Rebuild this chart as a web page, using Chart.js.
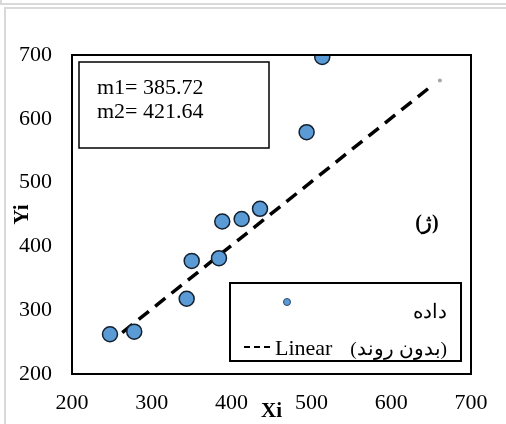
<!DOCTYPE html>
<html>
<head>
<meta charset="utf-8">
<script src="https://cdn.jsdelivr.net/npm/chart.js@4/dist/chart.umd.min.js"></script>
<style>
  html, body { margin: 0; padding: 0; background: #fff; overflow: hidden; }
  #wrap { position: relative; width: 506px; height: 424px; overflow: hidden; }
  .gline { position: absolute; background: #d9d9d9; }
  canvas { position: absolute; left: 0; top: 0; }
</style>
</head>
<body>
<div id="wrap">
  <div class="gline" style="left:0;top:3px;width:506px;height:2px"></div>
  <div class="gline" style="left:4px;top:7px;width:502px;height:2px"></div>
  <div class="gline" style="left:4px;top:7px;width:2px;height:417px"></div>
  <div class="gline" style="left:0;top:0;width:2px;height:4px"></div>
  <canvas id="chart" width="506" height="424"></canvas>
</div>
<script>
const xValues = [247.6, 278, 343.7, 350, 384.2, 388.3, 412.6, 435.6, 494, 513.6];
const yValues = [262.3, 266.4, 318, 377.3, 381.5, 439, 443, 458.9, 579, 697];

const trendX = [263, 648];
const trendY = [265, 649];

const endDot = [661, 660];

const xTicks = [200, 300, 400, 500, 600, 700];
const yTicks = [200, 300, 400, 500, 600, 700];

const notes = ['m1= 385.72', 'm2= 421.64'];
const panelLabel = '(ژ)';
const dataLabel = 'داده';
const trendLabel = ['Linear', '(بدون روند)'];

const serif = "'Liberation Serif', 'Times New Roman', 'DejaVu Serif', serif";
const blue = '#5b9bd5';

const points = xValues.map((x, i) => ({ x: x, y: yValues[i] }));
const trend = trendX.map((x, i) => ({ x: x, y: trendY[i] }));

// frame, text box, legend box, panel label
const extras = {
    id: 'extras',
    afterDraw(chart) {
        const ctx = chart.ctx;
        const a = chart.chartArea;
        ctx.save();

        ctx.strokeStyle = '#000';
        ctx.lineWidth = 2;
        ctx.strokeRect(a.left, a.top, a.right - a.left, a.bottom - a.top);

        // m1 / m2 box
        ctx.lineWidth = 1.5;
        ctx.strokeRect(79, 62, 190, 86);
        ctx.fillStyle = '#000';
        ctx.font = '22px ' + serif;
        ctx.textAlign = 'left';
        ctx.textBaseline = 'alphabetic';
        ctx.fillText(notes[0], 97, 94);
        ctx.fillText(notes[1], 97, 118);

        // panel label
        ctx.font = 'bold 20px ' + serif;
        ctx.textAlign = 'center';
        ctx.textBaseline = 'middle';
        ctx.fillText(panelLabel, 427, 224);

        // legend
        ctx.fillStyle = '#fff';
        ctx.fillRect(230, 283, 231, 78);
        ctx.lineWidth = 2;
        ctx.strokeRect(230, 283, 231, 78);

        ctx.beginPath();
        ctx.arc(287, 302, 3.5, 0, Math.PI * 2);
        ctx.fillStyle = blue;
        ctx.fill();
        ctx.lineWidth = 1;
        ctx.strokeStyle = '#2b4a6b';
        ctx.stroke();

        ctx.fillStyle = '#000';
        ctx.textAlign = 'right';
        ctx.textBaseline = 'alphabetic';
        ctx.font = '20px ' + serif;
        ctx.fillText(dataLabel, 447, 318);

        ctx.strokeStyle = '#000';
        ctx.lineWidth = 2;
        ctx.setLineDash([6, 4]);
        ctx.beginPath();
        ctx.moveTo(244, 347);
        ctx.lineTo(274, 347);
        ctx.stroke();
        ctx.setLineDash([]);

        ctx.textAlign = 'left';
        ctx.font = '22px ' + serif;
        ctx.fillText(trendLabel[0], 275, 355);
        ctx.textAlign = 'right';
        ctx.font = '19.5px ' + serif;
        ctx.fillText(trendLabel[1], 447, 355);

        ctx.restore();
    }
};

const config = {
    type: 'scatter',
    data: {
        datasets: [
            {
                label: dataLabel,
                data: points,
                order: 0,
                pointRadius: 7.5,
                pointHoverRadius: 7.5,
                pointBorderWidth: 1.5,
                backgroundColor: blue,
                borderColor: '#14202e'
            },
            {
                type: 'line',
                label: 'Linear',
                data: trend,
                order: 1,
                borderColor: '#000',
                borderWidth: 3.5,
                borderDash: [13, 8],
                pointRadius: 0,
                fill: false
            },
            {
                label: 'end',
                data: [{ x: endDot[0], y: endDot[1] }],
                order: 2,
                pointRadius: 2,
                pointBorderWidth: 0,
                backgroundColor: '#a6a6a6'
            }
        ]
    },
    options: {
        responsive: false,
        animation: false,
        layout: {
            padding: { left: 0, right: 35, top: 55, bottom: 0 }
        },
        plugins: {
            legend: { display: false },
            tooltip: { enabled: false }
        },
        scales: {
            x: {
                type: 'linear',
                min: 200,
                max: 700,
                afterFit: (scale) => { scale.height = 50; },
                afterBuildTicks: (scale) => { scale.ticks = xTicks.map(v => ({ value: v })); },
                grid: { display: false, drawTicks: false },
                border: { display: false },
                ticks: {
                    padding: 16,
                    color: '#000',
                    font: { family: serif, size: 22 }
                },
                title: {
                    display: true,
                    text: 'Xi',
                    color: '#000',
                    padding: 0,
                    font: { family: serif, size: 21, weight: 'bold' }
                }
            },
            y: {
                type: 'linear',
                min: 200,
                max: 700,
                afterFit: (scale) => { scale.width = 72; },
                afterBuildTicks: (scale) => { scale.ticks = yTicks.map(v => ({ value: v })); },
                grid: { display: false, drawTicks: false },
                border: { display: false },
                ticks: {
                    padding: 20,
                    color: '#000',
                    font: { family: serif, size: 22 }
                },
                title: {
                    display: true,
                    text: 'Yi',
                    color: '#000',
                    padding: { top: 10, bottom: 0 },
                    font: { family: serif, size: 21, weight: 'bold' }
                }
            }
        }
    },
    plugins: [extras]
};

const chart = new Chart(
    document.getElementById('chart'),
    config
);
</script>
</body>
</html>
